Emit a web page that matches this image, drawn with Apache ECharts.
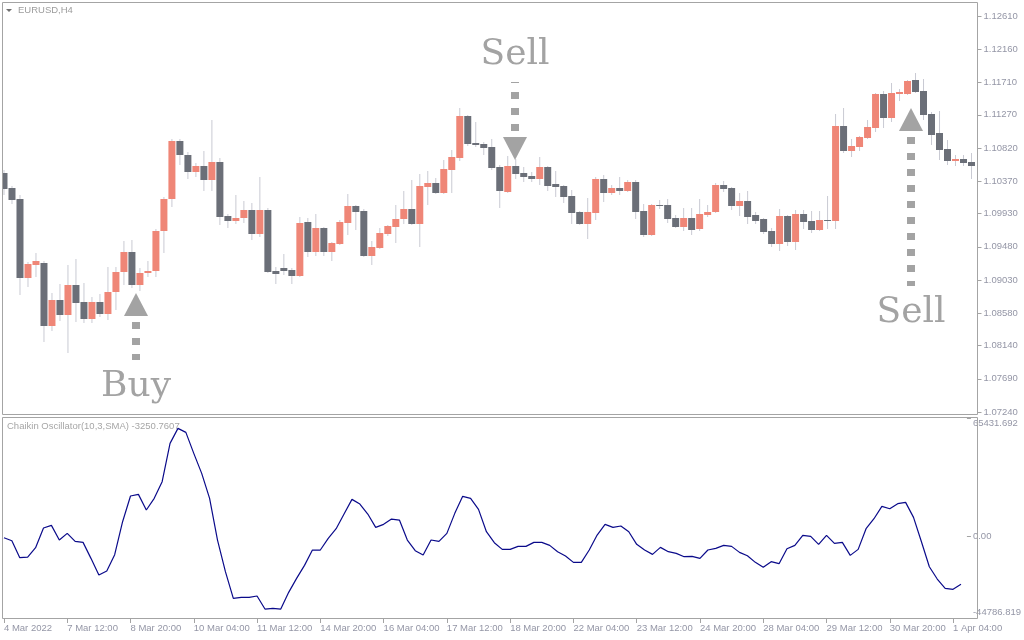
<!DOCTYPE html>
<html>
<head>
<meta charset="utf-8">
<title>EURUSD,H4 - Chaikin Oscillator</title>
<script src="https://cdn.jsdelivr.net/npm/echarts@6/dist/echarts.min.js"></script>
<style>
  html, body { margin: 0; padding: 0; background: #fff; }
  #chart { width: 1024px; height: 640px; }
</style>
</head>
<body>
<div id="chart"></div>
<script>
// trading days shown on the H4 chart (first bar 4 Mar 04:00, last bar 1 Apr 08:00)
const year = '2022'
const tradingDays = ['4 Mar', '7 Mar', '8 Mar', '9 Mar', '10 Mar', '11 Mar', '14 Mar', '15 Mar', '16 Mar',
  '17 Mar', '18 Mar', '21 Mar', '22 Mar', '23 Mar', '24 Mar', '25 Mar', '28 Mar', '29 Mar', '30 Mar',
  '31 Mar', '1 Apr']
const barHours = ['00:00', '04:00', '08:00', '12:00', '16:00', '20:00']

const opens = [
  1.10485, 1.10278, 1.10128, 1.09061, 1.09238, 1.09261, 1.08410, 1.08759, 1.08559, 1.08962,
  1.08732, 1.08505, 1.08732, 1.08573, 1.08867, 1.09139, 1.09410, 1.08962, 1.09125, 1.09152,
  1.09695, 1.10128, 1.10915, 1.10729, 1.10499, 1.10576, 1.10390, 1.10630, 1.09898, 1.09834,
  1.09871, 1.09979, 1.09658, 1.09979, 1.09156, 1.09197, 1.09166, 1.09088, 1.09817, 1.09414,
  1.09735, 1.09414, 1.09518, 1.09803, 1.10034, 1.09966, 1.09356, 1.09464, 1.09654, 1.09749,
  1.09857, 1.09993, 1.09789, 1.10291, 1.10345, 1.10210, 1.10522, 1.10684, 1.11254, 1.10888,
  1.10874, 1.10834, 1.10562, 1.10223, 1.10576, 1.10481, 1.10440, 1.10400, 1.10562, 1.10332,
  1.10305, 1.10169, 1.09952, 1.09789, 1.09939, 1.10400, 1.10210, 1.10278, 1.10237, 1.10359,
  1.09966, 1.09640, 1.10047, 1.10047, 1.09871, 1.09749, 1.09871, 1.09722, 1.09911, 1.09952,
  1.10318, 1.10278, 1.10034, 1.10101, 1.09911, 1.09857, 1.09695, 1.09518, 1.09898, 1.09545,
  1.09925, 1.09830, 1.09708, 1.09844, 1.09830, 1.11118, 1.10779, 1.10834, 1.10956, 1.11091,
  1.11552, 1.11227, 1.11552, 1.11552, 1.11742, 1.11593, 1.11281, 1.11024, 1.10807, 1.10644,
  1.10671, 1.10630
]
const closes = [
  1.10268, 1.10119, 1.09061, 1.09247, 1.09288, 1.08410, 1.08759, 1.08559, 1.08962, 1.08722,
  1.08505, 1.08732, 1.08573, 1.08867, 1.09139, 1.09410, 1.08962, 1.09125, 1.09152, 1.09695,
  1.10128, 1.10915, 1.10729, 1.10499, 1.10576, 1.10390, 1.10630, 1.09888, 1.09834, 1.09871,
  1.09979, 1.09658, 1.09979, 1.09143, 1.09115, 1.09156, 1.09088, 1.09803, 1.09414, 1.09735,
  1.09414, 1.09532, 1.09817, 1.10034, 1.09952, 1.09356, 1.09478, 1.09667, 1.09762, 1.09857,
  1.09993, 1.09789, 1.10305, 1.10345, 1.10210, 1.10535, 1.10698, 1.11254, 1.10874, 1.10861,
  1.10820, 1.10549, 1.10237, 1.10576, 1.10468, 1.10427, 1.10400, 1.10562, 1.10305, 1.10291,
  1.10156, 1.09939, 1.09789, 1.09952, 1.10400, 1.10210, 1.10278, 1.10237, 1.10359, 1.09952,
  1.09640, 1.10047, 1.10034, 1.09857, 1.09749, 1.09871, 1.09708, 1.09925, 1.09952, 1.10318,
  1.10264, 1.10034, 1.10101, 1.09884, 1.09830, 1.09681, 1.09518, 1.09898, 1.09545, 1.09925,
  1.09817, 1.09708, 1.09844, 1.09830, 1.11118, 1.10779, 1.10847, 1.10969, 1.11105, 1.11552,
  1.11227, 1.11566, 1.11580, 1.11729, 1.11580, 1.11268, 1.10996, 1.10793, 1.10644, 1.10671,
  1.10617, 1.10576
]
const lows = [
  1.10179, 1.10065, 1.08831, 1.08939, 1.09075, 1.08193, 1.08343, 1.08478, 1.08044, 1.08465,
  1.08443, 1.08451, 1.08532, 1.08488, 1.08623, 1.08962, 1.08917, 1.08885, 1.09075, 1.09075,
  1.09400, 1.10024, 1.10594, 1.10404, 1.10431, 1.10241, 1.10241, 1.09780, 1.09739, 1.09794,
  1.09803, 1.09577, 1.09613, 1.09129, 1.08977, 1.09102, 1.08980, 1.09071, 1.09342, 1.09360,
  1.09360, 1.09292, 1.09505, 1.09640, 1.09708, 1.09342, 1.09233, 1.09450, 1.09627, 1.09532,
  1.09789, 1.09776, 1.09478, 1.10047, 1.10196, 1.10196, 1.10210, 1.10644, 1.10847, 1.10834,
  1.10725, 1.10522, 1.10006, 1.10210, 1.10400, 1.10359, 1.10359, 1.10318, 1.10237, 1.10156,
  1.10074, 1.09789, 1.09776, 1.09586, 1.09844, 1.10088, 1.10183, 1.10183, 1.10223, 1.09857,
  1.09613, 1.09627, 1.09993, 1.09803, 1.09735, 1.09695, 1.09640, 1.09695, 1.09884, 1.09939,
  1.10223, 1.09979, 1.09898, 1.09789, 1.09789, 1.09654, 1.09478, 1.09423, 1.09491, 1.09437,
  1.09722, 1.09667, 1.09695, 1.09722, 1.09722, 1.10752, 1.10698, 1.10779, 1.10942, 1.11037,
  1.11091, 1.11173, 1.11457, 1.11539, 1.11566, 1.11200, 1.10861, 1.10657, 1.10590, 1.10576,
  1.10576, 1.10400
]
const highs = [
  1.10522, 1.10305, 1.10183, 1.09278, 1.09396, 1.09284, 1.08854, 1.08976, 1.09233, 1.09315,
  1.08989, 1.08800, 1.08840, 1.09210, 1.09210, 1.09559, 1.09572, 1.09189, 1.09292, 1.09722,
  1.10160, 1.10942, 1.10942, 1.10766, 1.10617, 1.10779, 1.11200, 1.10684, 1.09925, 1.10183,
  1.10101, 1.10074, 1.10427, 1.10006, 1.09206, 1.09383, 1.09193, 1.09888, 1.09871, 1.09925,
  1.09749, 1.09545, 1.09844, 1.10196, 1.10047, 1.09993, 1.09559, 1.09735, 1.09776, 1.10047,
  1.10237, 1.10386, 1.10468, 1.10508, 1.10413, 1.10657, 1.10793, 1.11363, 1.11268, 1.11173,
  1.10901, 1.10942, 1.10590, 1.10712, 1.10671, 1.10562, 1.10495, 1.10698, 1.10576, 1.10508,
  1.10318, 1.10251, 1.09966, 1.10142, 1.10427, 1.10454, 1.10318, 1.10427, 1.10386, 1.10386,
  1.10061, 1.10061, 1.10115, 1.10128, 1.09911, 1.10006, 1.10006, 1.10128, 1.10047, 1.10345,
  1.10373, 1.10291, 1.10210, 1.10237, 1.09952, 1.09871, 1.09735, 1.09993, 1.09911, 1.09979,
  1.09979, 1.09966, 1.09966, 1.10169, 1.11281, 1.11363, 1.10942, 1.10983, 1.11200, 1.11566,
  1.11593, 1.11702, 1.11620, 1.11742, 1.11837, 1.11756, 1.11308, 1.11322, 1.10929, 1.10725,
  1.10725, 1.10752
]
const chaikin = [
  -533, -2188, -11556, -11187, -6045, 4794, 6266, -1819, 1857, -2552,
  -3103, -11920, -21107, -18903, -9903, 8283, 22430, 23350, 14714, 21145,
  30327, 51456, 59722, 57518, 45945, 34923, 21145, -1819, -19272, -33964,
  -33413, -33413, -32680, -39844, -39475, -39844, -30657, -22942, -15778, -7330,
  -7330, -898, 4425, 12510, 20594, 18021, 12510, 5164, 6817, 9754,
  9203, -1819, -7699, -10085, -1819, -2552, 1857, 12879, 22248, 21145,
  15083, 2774, -3290, -6962, -6962, -5309, -5309, -3103, -3103, -4757,
  -8250, -10636, -14125, -14125, -7330, 937, 6817, 5164, 5897, 2774,
  -4205, -7330, -9716, -5858, -8250, -9165, -11005, -10818, -11920, -7330,
  -6409, -4757, -5309, -8614, -10454, -14125, -16880, -13761, -14863, -6597,
  -4757, 755, 204, -4205, 755, -3654, -3103, -10267, -6962, 4425,
  9936, 16737, 15447, 18203, 18941, 10675, -2739, -16516, -23311, -28453,
  -29004, -26249
]

const priceTicks = ['1.07240', '1.07690', '1.08140', '1.08580', '1.09030', '1.09480', '1.09930',
  '1.10370', '1.10820', '1.11270', '1.11710', '1.12160', '1.12610']
const oscTicks = [-44786.819, 0, 65431.692]
const oscTickLabels = ['-44786.819', '0.00', '65431.692']

// trade signals drawn on the price pane
const signalText = ['Buy', 'Sell', 'Sell']
const signalBar = [16.5, 63.94, 113.44]
const signalTip = [1.08854, 1.10657, 1.11363]
const signalTail = [1.07945, 1.11715, 1.08949]
const signalDir = ['up', 'down', 'up']

const categories = []
tradingDays.forEach(d => barHours.forEach(h => categories.push(d + ' ' + h)))
categories.splice(0, 1)
categories.length = opens.length

const bullColor = '#ef8677'
const bearColor = '#6b6f78'
const wickColor = '#c9cad3'
const axisText = '#9496a6'
const frameColor = '#a4a4a4'
const signalColor = '#a3a3a3'
const smallFont = 'Liberation Sans'

const candleData = opens.map((o, i) => [i, o, closes[i], lows[i], highs[i]])

function renderCandle (params, api) {
  const idx = api.value(0)
  const o = api.value(1)
  const c = api.value(2)
  const pO = api.coord([idx, o])
  const pC = api.coord([idx, c])
  const pL = api.coord([idx, api.value(3)])
  const pH = api.coord([idx, api.value(4)])
  const bodyW = Math.round(api.size([1, 0])[0] * 0.875)
  const cx = pO[0]
  const top = Math.round(Math.min(pO[1], pC[1]))
  const bottom = Math.round(Math.max(pO[1], pC[1]))
  return {
    type: 'group',
    children: [
      {
        type: 'line',
        shape: { x1: cx, y1: Math.round(pH[1]), x2: cx, y2: Math.round(pL[1]) },
        style: { stroke: wickColor, lineWidth: 1 }
      },
      {
        type: 'rect',
        shape: { x: cx - bodyW / 2, y: top, width: bodyW, height: Math.max(1, bottom - top) },
        style: { fill: c > o ? bullColor : bearColor }
      }
    ]
  }
}

const chart = echarts.init(document.getElementById('chart'))

const yLabelStyle = { color: axisText, fontSize: 9.5, fontFamily: smallFont }

const option = {
  animation: false,
  backgroundColor: '#ffffff',
  grid: [
    { left: -0.5, right: 48.5, top: 16, height: 396 },
    { left: -0.5, right: 48.5, top: 418, height: 200 }
  ],
  xAxis: [
    { type: 'category', gridIndex: 0, data: categories, show: false },
    {
      type: 'category',
      gridIndex: 1,
      data: categories,
      position: 'bottom',
      offset: 1,
      axisLine: { show: false, onZero: false },
      axisTick: { show: true, alignWithLabel: true, interval: 7, length: 4, lineStyle: { color: frameColor } },
      axisLabel: {
        interval: 7,
        align: 'left',
        margin: 4,
        color: axisText,
        fontSize: 9.5,
        fontFamily: smallFont,
        formatter: function (value, index) {
          return index === 0 ? value.split(' ').slice(0, 2).join(' ') + ' ' + year : value
        }
      },
      splitLine: { show: false }
    }
  ],
  yAxis: [
    {
      type: 'value',
      gridIndex: 0,
      position: 'right',
      offset: 2,
      min: Number(priceTicks[0]),
      max: Number(priceTicks[priceTicks.length - 1]),
      axisLine: { show: false },
      axisTick: { show: true, length: 4, lineStyle: { color: frameColor }, customValues: priceTicks.map(Number) },
      axisLabel: Object.assign({
        margin: 6,
        customValues: priceTicks.map(Number),
        formatter: v => Number(v).toFixed(5)
      }, yLabelStyle),
      splitLine: { show: false }
    },
    {
      type: 'value',
      gridIndex: 1,
      position: 'right',
      offset: 2,
      min: oscTicks[0],
      max: oscTicks[oscTicks.length - 1],
      axisLine: { show: false },
      axisTick: { show: true, length: 4, lineStyle: { color: frameColor }, customValues: oscTicks },
      axisLabel: Object.assign({
        margin: 6,
        customValues: oscTicks,
        formatter: function (v) {
          const k = oscTicks.indexOf(v)
          const txt = k >= 0 ? oscTickLabels[k] : ''
          if (k === oscTicks.length - 1) return '{hi|' + txt + '}'
          if (k === 0) return '{lo|' + txt + '}'
          return txt
        },
        rich: {
          hi: Object.assign({ padding: [11, 0, 0, 0] }, yLabelStyle),
          lo: Object.assign({ padding: [0, 0, 11, 0] }, yLabelStyle)
        }
      }, yLabelStyle),
      splitLine: { show: false }
    }
  ],
  series: [
    {
      name: 'EURUSD,H4',
      type: 'custom',
      xAxisIndex: 0,
      yAxisIndex: 0,
      renderItem: renderCandle,
      encode: { x: 0, y: [1, 2, 3, 4] },
      data: candleData
    },
    {
      name: 'Chaikin Oscillator(10,3,SMA)',
      type: 'line',
      xAxisIndex: 1,
      yAxisIndex: 1,
      data: chaikin,
      showSymbol: false,
      symbol: 'none',
      lineStyle: { color: '#0a0a8a', width: 1.2 }
    }
  ]
}

chart.setOption(option)

// position of a (fractional) bar index and price in the price pane
function toPixel (bar, price) {
  const i0 = Math.floor(bar)
  const a = chart.convertToPixel({ gridIndex: 0 }, [i0, price])
  const b = chart.convertToPixel({ gridIndex: 0 }, [i0 + 1, price])
  return [a[0] + (b[0] - a[0]) * (bar - i0), a[1]]
}

const graphics = [
  { type: 'rect', z: 99, shape: { x: 0, y: 0, width: 2.5, height: 640 }, style: { fill: '#fff' } },
  { type: 'rect', z: 100, shape: { x: 2.5, y: 2.5, width: 975, height: 412 }, style: { fill: null, stroke: frameColor, lineWidth: 1 } },
  { type: 'rect', z: 100, shape: { x: 2.5, y: 417.5, width: 975, height: 201 }, style: { fill: null, stroke: frameColor, lineWidth: 1 } },
  { type: 'polygon', z: 100, shape: { points: [[6, 9], [12, 9], [9, 12]] }, style: { fill: '#6f6f6f' } },
  {
    type: 'text', z: 100,
    style: { text: 'EURUSD,H4', x: 18, y: 10.5, fill: '#9c9c9c', font: '9.5px "Liberation Sans"', align: 'left', verticalAlign: 'middle' }
  },
  {
    type: 'text', z: 100,
    style: { text: 'Chaikin Oscillator(10,3,SMA) -3250.7607', x: 7, y: 426.5, fill: '#a6a6a6', font: '9.5px "Liberation Sans"', align: 'left', verticalAlign: 'middle' }
  }
]

signalText.forEach((label, k) => {
  const tip = toPixel(signalBar[k], signalTip[k])
  const tail = toPixel(signalBar[k], signalTail[k])
  const cx = Math.round(tip[0])
  const s = signalDir[k] === 'up' ? 1 : -1
  const base = tip[1] + s * 23
  graphics.push({
    type: 'polygon', z: 100,
    shape: { points: [[cx, tip[1]], [cx - 12, base], [cx + 12, base]] },
    style: { fill: signalColor }
  })
  graphics.push({
    type: 'line', z: 100,
    shape: { x1: cx, y1: base + s * 6, x2: cx, y2: tail[1] },
    style: { stroke: signalColor, lineWidth: 8, lineDash: [7, 9] }
  })
  graphics.push({
    type: 'text', z: 100,
    style: {
      text: label, x: cx, y: tail[1] + s * 27, fill: signalColor,
      font: '36px "DejaVu Serif"', align: 'center', verticalAlign: 'middle'
    }
  })
})

chart.setOption({ graphic: graphics })
</script>
</body>
</html>
